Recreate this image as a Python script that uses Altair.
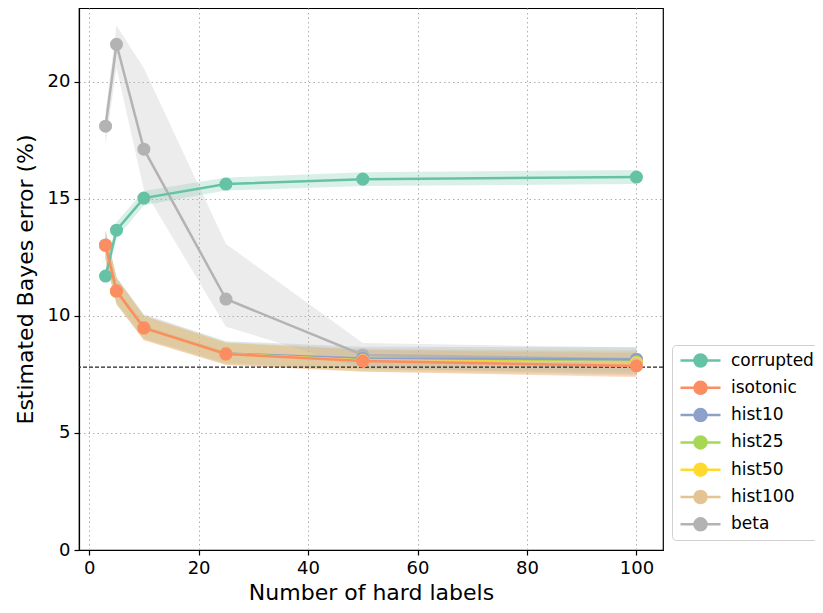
import altair as alt
import pandas as pd

x_vals = [3, 5, 10, 25, 50, 100]
methods = ["corrupted", "isotonic", "hist10", "hist25", "hist50", "hist100", "beta"]
colors = ["#66c2a5", "#fc8d62", "#8da0cb", "#a6d854", "#ffd92f", "#e5c494", "#b3b3b3"]
band_alpha = [0.25, 0.30, 0.25, 0.15, 0.12, 0.40, 0.25]

corrupted_mean = [11.70, 13.66, 15.03, 15.63, 15.84, 15.93]
corrupted_lo = [11.40, 13.32, 14.73, 15.35, 15.55, 15.63]
corrupted_hi = [12.00, 14.00, 15.33, 15.91, 16.13, 16.23]

isotonic_mean = [13.02, 11.06, 9.48, 8.37, 8.07, 7.86]
isotonic_lo = [12.42, 10.50, 8.96, 7.90, 7.62, 7.38]
isotonic_hi = [13.62, 11.60, 10.00, 8.84, 8.55, 8.40]

hist10_mean = [13.03, 11.07, 9.50, 8.39, 8.18, 8.14]
hist10_lo = [12.45, 10.55, 9.03, 7.98, 7.72, 7.62]
hist10_hi = [13.65, 11.65, 10.07, 8.92, 8.68, 8.66]

hist25_mean = [13.01, 11.06, 9.49, 8.38, 8.11, 8.03]
hist25_lo = [12.40, 10.52, 8.98, 7.95, 7.65, 7.53]
hist25_hi = [13.60, 11.64, 10.02, 8.89, 8.60, 8.53]

hist50_mean = [13.02, 11.05, 9.48, 8.37, 8.09, 8.00]
hist50_lo = [12.43, 10.50, 8.98, 7.93, 7.63, 7.48]
hist50_hi = [13.63, 11.60, 10.02, 8.87, 8.57, 8.52]

hist100_mean = [13.00, 11.06, 9.48, 8.37, 8.08, 7.95]
hist100_lo = [12.40, 10.51, 8.97, 7.91, 7.61, 7.43]
hist100_hi = [13.60, 11.63, 10.01, 8.85, 8.55, 8.47]

beta_mean = [18.10, 21.60, 17.12, 10.72, 8.33, 8.15]
beta_lo = [17.30, 20.60, 15.40, 9.54, 7.75, 7.50]
beta_hi = [18.70, 22.40, 20.58, 13.07, 8.84, 8.65]

bayes_ref = 7.81

x_ticks = [0, 20, 40, 60, 80, 100]
y_ticks = [0, 5, 10, 15, 20]

series = {
    "corrupted": (corrupted_mean, corrupted_lo, corrupted_hi),
    "isotonic": (isotonic_mean, isotonic_lo, isotonic_hi),
    "hist10": (hist10_mean, hist10_lo, hist10_hi),
    "hist25": (hist25_mean, hist25_lo, hist25_hi),
    "hist50": (hist50_mean, hist50_lo, hist50_hi),
    "hist100": (hist100_mean, hist100_lo, hist100_hi),
    "beta": (beta_mean, beta_lo, beta_hi),
}

rows = []
for i, m in enumerate(methods):
    mean, lo, hi = series[m]
    for j, xv in enumerate(x_vals):
        rows.append({"method": m, "order": i, "x": xv, "mean": mean[j], "lo": lo[j], "hi": hi[j]})
df = pd.DataFrame(rows)

xscale = alt.Scale(domain=[-1.85, 104.85], nice=False, zero=False)
yscale = alt.Scale(domain=[0, 23.15], nice=False, zero=False)
cscale = alt.Scale(domain=methods, range=colors)

xenc = alt.X("x:Q", scale=xscale, title="Number of hard labels",
             axis=alt.Axis(values=x_ticks, titlePadding=5))
yaxis_enc = alt.Y("lo:Q", scale=yscale, title="Estimated Bayes error (%)",
                  axis=alt.Axis(values=y_ticks, titlePadding=10))

sym_path = "M-2,0L2,0M0.6,0A0.6,0.6,0,1,1,-0.6,0A0.6,0.6,0,1,1,0.6,0Z"

legend = alt.Legend(
    title=None, orient="none", legendX=593, legendY=337,
    symbolType=sym_path, symbolSize=400, symbolStrokeWidth=2.5, symbolOffset=13,
    symbolOpacity=1,
    labelFont="DejaVu Sans", labelFontSize=17, labelColor="black", labelOffset=19,
    rowPadding=4.3, padding=4, strokeColor="#d0d0d0", fillColor="white", cornerRadius=4,
)
color_enc = alt.Color("method:N", scale=cscale, legend=legend, sort=methods)

base = alt.Chart(df)

band_layers = []
for m, a in zip(methods, band_alpha):
    band_layers.append(
        base.transform_filter(alt.datum.method == m).mark_area(
            opacity=a, interpolate="linear"
        ).encode(
            x=xenc,
            y=yaxis_enc,
            y2="hi:Q",
            color=color_enc,
        )
    )

ref = alt.Chart(pd.DataFrame({"y": [bayes_ref]})).mark_rule(
    color="#222222", strokeDash=[4, 2], strokeWidth=1.2
).encode(y=alt.Y("y:Q", scale=yscale))

line_order = ["beta", "hist10", "hist25", "hist50", "hist100", "corrupted", "isotonic"]
line_layers = []
for m in line_order:
    sub = base.transform_filter(alt.datum.method == m)
    line_layers.append(
        sub.mark_line(strokeWidth=2.5).encode(
            x=xenc,
            y=alt.Y("mean:Q", scale=yscale),
            color=color_enc,
            order="x:Q",
        )
    )
    line_layers.append(
        sub.mark_point(filled=True, size=170, opacity=1).encode(
            x=xenc,
            y=alt.Y("mean:Q", scale=yscale),
            color=color_enc,
        )
    )

chart = alt.layer(*band_layers, ref, *line_layers).properties(
    width=584, height=542,
    padding={"left": 71, "top": 0, "right": 152, "bottom": 55},
    autosize=alt.AutoSizeParams(type="none"),
).configure_view(
    stroke="black", strokeWidth=1.2
).configure_axis(
    grid=True, gridColor="#b0b0b0", gridDash=[1.5, 3], gridWidth=1,
    domainColor="black", domainWidth=1.2, tickColor="black", tickSize=5, tickWidth=1.2,
    labelFont="DejaVu Sans", labelFontSize=18, labelColor="black", labelPadding=4,
    titleFont="DejaVu Sans", titleFontSize=22, titleColor="black", titleFontWeight="normal",
)

chart.save("out.html", embed_options={"renderer": "svg", "actions": False})
